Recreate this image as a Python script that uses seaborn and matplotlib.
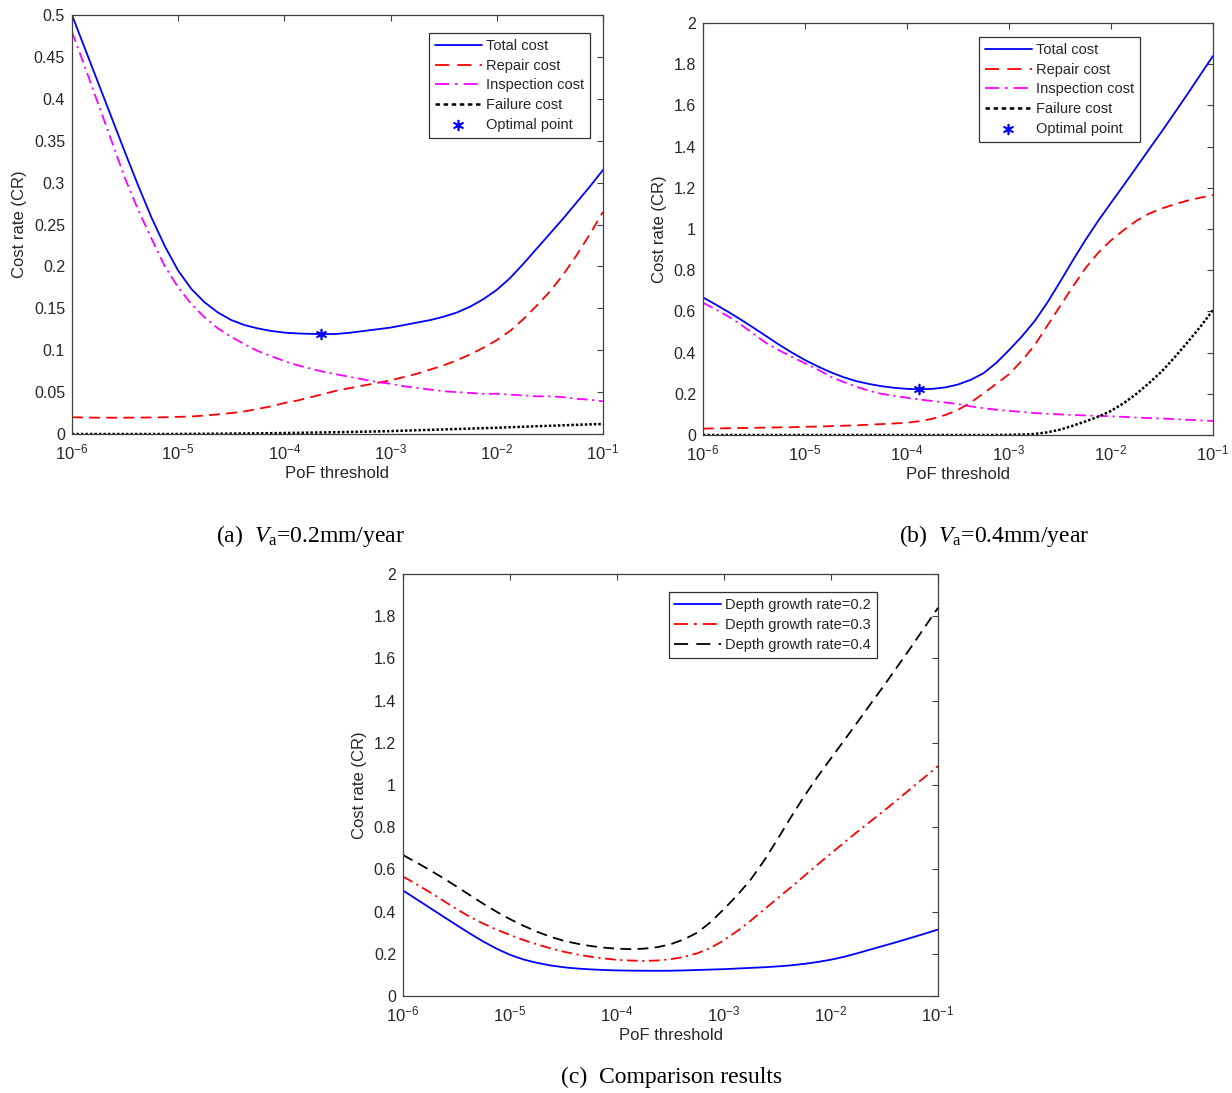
import numpy as np
import pandas as pd
import matplotlib
matplotlib.use("Agg")
import matplotlib.pyplot as plt
import seaborn as sns
from matplotlib.ticker import FuncFormatter, FixedLocator, NullLocator

# ---------------- data (log10 of PoF threshold, 1/8-decade steps) ----------------
log_pof = [-6.0, -5.875, -5.75, -5.625, -5.5, -5.375, -5.25, -5.125,
           -5.0, -4.875, -4.75, -4.625, -4.5, -4.375, -4.25, -4.125,
           -4.0, -3.875, -3.75, -3.625, -3.5, -3.375, -3.25, -3.125,
           -3.0, -2.875, -2.75, -2.625, -2.5, -2.375, -2.25, -2.125,
           -2.0, -1.875, -1.75, -1.625, -1.5, -1.375, -1.25, -1.125, -1.0]

# (a) Va = 0.2 mm/year
total_a = [0.500, 0.459, 0.418, 0.377, 0.336, 0.296, 0.258, 0.224,
           0.195, 0.173, 0.157, 0.145, 0.136, 0.130, 0.126, 0.123,
           0.121, 0.120, 0.1195, 0.1192, 0.1195, 0.121, 0.123, 0.125,
           0.127, 0.130, 0.133, 0.136, 0.140, 0.145, 0.152, 0.161,
           0.172, 0.186, 0.203, 0.221, 0.239, 0.257, 0.276, 0.295, 0.315]
repair_a = [0.020, 0.0197, 0.0195, 0.0195, 0.0195, 0.0196, 0.0198, 0.020,
            0.0205, 0.021, 0.022, 0.0235, 0.025, 0.027, 0.030, 0.033,
            0.037, 0.040, 0.044, 0.048, 0.052, 0.055, 0.058, 0.061,
            0.064, 0.068, 0.072, 0.077, 0.082, 0.088, 0.095, 0.103,
            0.112, 0.123, 0.137, 0.153, 0.170, 0.190, 0.213, 0.238, 0.265]
inspect_a = [0.480, 0.437, 0.393, 0.349, 0.305, 0.267, 0.233, 0.200,
             0.175, 0.155, 0.139, 0.126, 0.116, 0.107, 0.099, 0.093,
             0.087, 0.082, 0.078, 0.074, 0.071, 0.068, 0.065, 0.062,
             0.060, 0.057, 0.055, 0.053, 0.051, 0.050, 0.049, 0.048,
             0.048, 0.047, 0.046, 0.045, 0.045, 0.044, 0.042, 0.041, 0.039]
failure_a = [0.0, 0.0, 0.0, 0.0, 0.0, 0.0, 0.0, 0.0,
             0.0001, 0.0002, 0.0003, 0.0004, 0.0005, 0.0007, 0.0008, 0.001,
             0.0012, 0.0014, 0.0017, 0.0019, 0.0022, 0.0025, 0.0028, 0.0031,
             0.0035, 0.004, 0.0045, 0.005, 0.0055, 0.006, 0.0065, 0.007,
             0.0075, 0.0081, 0.0087, 0.0093, 0.0098, 0.0104, 0.011, 0.0115, 0.012]
opt_a_x = [2.2e-4]
opt_a_y = [0.1193]

# (b) Va = 0.4 mm/year
total_b = [0.668, 0.633, 0.597, 0.559, 0.519, 0.478, 0.437, 0.399,
           0.364, 0.333, 0.305, 0.281, 0.262, 0.248, 0.237, 0.229,
           0.224, 0.222, 0.224, 0.231, 0.245, 0.268, 0.300, 0.350,
           0.412, 0.478, 0.552, 0.642, 0.743, 0.847, 0.947, 1.040,
           1.127, 1.213, 1.300, 1.388, 1.475, 1.565, 1.655, 1.748, 1.840]
repair_b = [0.031, 0.032, 0.033, 0.034, 0.035, 0.036, 0.037, 0.038,
            0.040, 0.041, 0.043, 0.045, 0.047, 0.050, 0.053, 0.056,
            0.060, 0.067, 0.079, 0.097, 0.122, 0.158, 0.202, 0.248,
            0.295, 0.360, 0.435, 0.530, 0.625, 0.720, 0.810, 0.885,
            0.945, 0.995, 1.040, 1.075, 1.100, 1.120, 1.138, 1.152, 1.165]
inspect_b = [0.642, 0.610, 0.575, 0.535, 0.489, 0.445, 0.410, 0.378,
             0.348, 0.318, 0.283, 0.258, 0.235, 0.215, 0.200, 0.190,
             0.181, 0.172, 0.165, 0.158, 0.150, 0.139, 0.130, 0.123,
             0.117, 0.112, 0.107, 0.103, 0.100, 0.097, 0.095, 0.093,
             0.091, 0.088, 0.085, 0.082, 0.080, 0.077, 0.074, 0.071, 0.068]
failure_b = [0.0, 0.0, 0.0, 0.0, 0.0, 0.0, 0.0, 0.0,
             0.0, 0.0, 0.0, 0.0, 0.0, 0.0, 0.0, 0.0,
             0.0, 0.0, 0.0, 0.0, 0.0, 0.0, 0.0, 0.0,
             0.001, 0.002, 0.005, 0.013, 0.026, 0.045, 0.066, 0.089,
             0.117, 0.155, 0.200, 0.253, 0.310, 0.378, 0.450, 0.525, 0.607]
opt_b_x = [1.3e-4]
opt_b_y = [0.222]

# (c) comparison, depth growth rate = 0.3 (0.2 and 0.4 are the total costs above)
total_c03 = [0.566, 0.530, 0.492, 0.452, 0.412, 0.375, 0.343, 0.314,
             0.289, 0.265, 0.245, 0.226, 0.210, 0.197, 0.186, 0.178,
             0.171, 0.168, 0.166, 0.168, 0.174, 0.185, 0.202, 0.228,
             0.264, 0.308, 0.357, 0.410, 0.463, 0.515, 0.569, 0.623,
             0.676, 0.728, 0.780, 0.830, 0.880, 0.932, 0.985, 1.037, 1.090]

x_ticks = [1e-6, 1e-5, 1e-4, 1e-3, 1e-2, 1e-1]
yticks_a = [0, 0.05, 0.1, 0.15, 0.2, 0.25, 0.3, 0.35, 0.4, 0.45, 0.5]
yticks_bc = [0, 0.2, 0.4, 0.6, 0.8, 1.0, 1.2, 1.4, 1.6, 1.8, 2.0]

legend_ab = ["Total cost", "Repair cost", "Inspection cost", "Failure cost", "Optimal point"]
legend_c = ["Depth growth rate=0.2", "Depth growth rate=0.3", "Depth growth rate=0.4"]
captions = ["(a)  $V_{\\mathrm{a}}$=0.2mm/year", "(b)  $V_{\\mathrm{a}}$=0.4mm/year",
            "(c)  Comparison results"]

# ---------------- style ----------------
sns.set_theme(style="white")
plt.rcParams['font.family'] = ['Liberation Sans', 'DejaVu Sans']
plt.rcParams['mathtext.fontset'] = 'custom'
plt.rcParams['mathtext.rm'] = 'Liberation Serif'
plt.rcParams['mathtext.it'] = 'Liberation Serif:italic'
plt.rcParams['mathtext.sf'] = 'Liberation Sans'

pof = np.power(10.0, np.array(log_pof))

BLUE = "#0000ff"
RED = "#ff0000"
MAG = "#ff00ff"
BLK = "#000000"
TXT = "#262626"
LW = 1.3

DASH = (6, 3.5)
DASHDOT = (6, 2.5, 1.2, 2.5)
DOT = (1, 0.8)

fig = plt.figure(figsize=(12.32, 10.93), dpi=100)
ax_a = fig.add_axes([0.0584, 0.6029, 0.4310, 0.3834])
ax_b = fig.add_axes([0.5706, 0.6020, 0.4140, 0.3770])
ax_c = fig.add_axes([0.3271, 0.0888, 0.4343, 0.3860])

asterisk = (6, 2, 0)


def log_fmt(v, p):
    e = int(round(np.log10(v)))
    return r"$\mathsf{10^{%d}}$" % e


def style_axis(ax, yticks, ylim):
    ax.set_xscale("log")
    ax.set_xlim(1e-6, 1e-1)
    ax.set_ylim(*ylim)
    ax.xaxis.set_major_locator(FixedLocator(x_ticks))
    ax.xaxis.set_minor_locator(NullLocator())
    ax.xaxis.set_major_formatter(FuncFormatter(log_fmt))
    ax.yaxis.set_major_locator(FixedLocator(yticks))
    ax.yaxis.set_major_formatter(FuncFormatter(lambda v, p: "%g" % v))
    ax.tick_params(axis="both", which="major", direction="in", length=4.5, width=0.8,
                   top=True, right=True, labelsize=11.5, colors="#404040",
                   labelcolor=TXT, pad=5)
    ax.tick_params(axis="x", pad=6, labelsize=12)
    for s in ax.spines.values():
        s.set_color("#404040")
        s.set_linewidth(0.9)
    ax.set_xlabel("PoF threshold", fontsize=12, color=TXT, labelpad=3)
    ax.set_ylabel("Cost rate (CR)", fontsize=12, color=TXT, labelpad=5)
    ax.set_facecolor("white")


def sync_legend(leg, lines):
    for lh, ln in zip(leg.get_lines(), lines):
        pat = ln._dash_pattern[1]
        if pat:
            lh.set_dashes(pat)


def cost_panel(ax, tot, rep, ins, fai, ox, oy, yticks, ylim, anchor):
    sns.lineplot(x=pof, y=tot, ax=ax, color=BLUE, lw=LW, label=legend_ab[0])
    sns.lineplot(x=pof, y=rep, ax=ax, color=RED, lw=LW, label=legend_ab[1]).lines[-1].set_dashes(DASH)
    sns.lineplot(x=pof, y=ins, ax=ax, color=MAG, lw=LW, label=legend_ab[2]).lines[-1].set_dashes(DASHDOT)
    sns.lineplot(x=pof, y=fai, ax=ax, color=BLK, lw=1.8, label=legend_ab[3]).lines[-1].set_dashes(DOT)
    sns.scatterplot(x=ox, y=oy, ax=ax, color=BLUE, marker=asterisk, s=50,
                    linewidth=1.2, edgecolor=BLUE, label=legend_ab[4], zorder=5)
    style_axis(ax, yticks, ylim)
    h, lab = ax.get_legend_handles_labels()
    leg = ax.legend(h, lab, loc="upper right", bbox_to_anchor=anchor, borderaxespad=0,
                    fontsize=10.5, frameon=True, fancybox=False, framealpha=1,
                    edgecolor="#303030", handlelength=3.2, handletextpad=0.3,
                    labelspacing=0.4, borderpad=0.4, scatterpoints=1)
    leg.get_frame().set_linewidth(0.9)
    sync_legend(leg, ax.get_lines()[:4])


cost_panel(ax_a, total_a, repair_a, inspect_a, failure_a, opt_a_x, opt_a_y,
           yticks_a, (0, 0.5), (0.9755, 0.957))
cost_panel(ax_b, total_b, repair_b, inspect_b, failure_b, opt_b_x, opt_b_y,
           yticks_bc, (0, 2), (0.857, 0.966))

# (c)
sns.lineplot(x=pof, y=total_a, ax=ax_c, color=BLUE, lw=LW, label=legend_c[0])
sns.lineplot(x=pof, y=total_c03, ax=ax_c, color=RED, lw=LW, label=legend_c[1]).lines[-1].set_dashes(DASHDOT)
sns.lineplot(x=pof, y=total_b, ax=ax_c, color=BLK, lw=LW, label=legend_c[2]).lines[-1].set_dashes(DASH)
style_axis(ax_c, yticks_bc, (0, 2))
leg = ax_c.legend(loc="upper right", bbox_to_anchor=(0.886, 0.957), borderaxespad=0,
                  fontsize=10.5, frameon=True, fancybox=False, framealpha=1,
                  edgecolor="#303030", handlelength=3.2, handletextpad=0.3,
                  labelspacing=0.4, borderpad=0.4)
leg.get_frame().set_linewidth(0.9)
sync_legend(leg, ax_c.get_lines()[:3])

# captions
cap_kw = dict(ha="center", va="center", fontsize=17, family="Liberation Serif", color=BLK)
fig.text(310 / 1232, 1 - 536 / 1093, captions[0], **cap_kw)
fig.text(994 / 1232, 1 - 536 / 1093, captions[1], **cap_kw)
fig.text(672 / 1232, 1 - 1077 / 1093, captions[2], **cap_kw)

fig.savefig("out.png", dpi=100, facecolor="white")
